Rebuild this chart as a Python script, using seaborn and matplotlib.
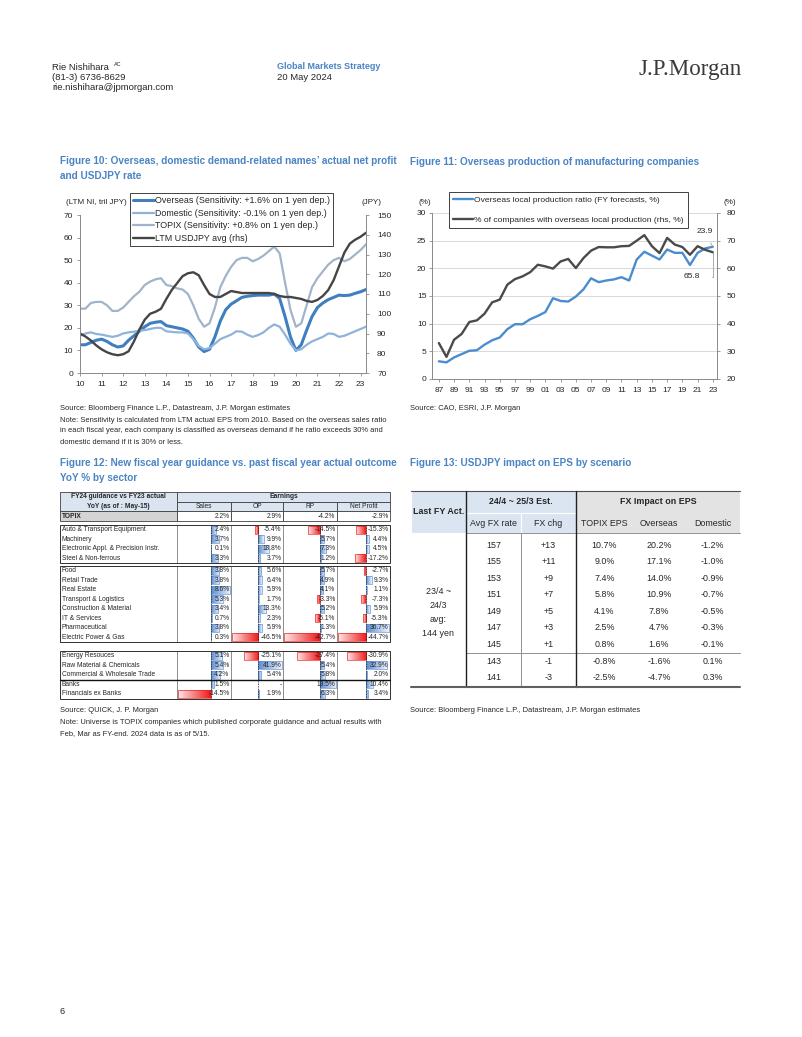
import numpy as np
import matplotlib
matplotlib.use('Agg')
import matplotlib.pyplot as plt
import seaborn as sns
from matplotlib.patches import Rectangle
from matplotlib.colors import to_rgb

sns.set_theme(style='white')
plt.rcParams['font.family'] = ['Liberation Sans', 'DejaVu Sans']

# ---- Figure 10 data (quarterly, FY10 - FY23) ----
quarters = np.arange(10, 23.3, 0.25)
overseas_ni = [12.5, 12.5, 13.5, 14.5, 15, 14, 12.5, 11.5, 12, 14.5,
               16.5, 18.5, 20.5, 22, 22.5, 22.8, 21, 20.5, 20, 19.5,
               18.5, 15.5, 11.5, 9.5, 10.5, 16, 23, 28, 30.5, 32,
               33.5, 34, 34.3, 34.5, 34.5, 34.5, 35, 33, 25, 16,
               10, 12.5, 19, 25, 29, 31, 32.5, 33.5, 34.5, 34.3,
               34.5, 35.3, 36, 37]
domestic_ni = [16.5, 17.5, 18, 17.3, 17, 16.5, 16, 16.5, 17.5, 18,
               18.3, 18.8, 19, 19.5, 20, 20, 18.5, 18.2, 18, 18,
               17.5, 15, 12, 10.5, 11, 13, 15, 16, 17, 18.5,
               18.3, 17, 16, 16.8, 18, 20, 21.5, 20.5, 17, 13,
               10, 10.5, 12.5, 14, 15, 16, 17.5, 17.3, 16, 16.5,
               17.5, 18.5, 19.5, 20.5]
topix_ni = [28.5, 28.5, 31, 31.5, 31.5, 30, 27.5, 27.5, 29, 31.5,
            34, 36, 39, 40.5, 41.5, 42, 39, 38.5, 37.5, 37,
            35, 30, 24, 20.5, 22, 29, 38, 43, 47, 50,
            51, 51, 49.5, 50.5, 52, 54, 56, 53, 40, 28,
            20.5, 22, 30, 38, 42, 45, 48, 50, 51, 49.5,
            50.5, 52.5, 54.5, 57]
usdjpy = [90, 88.5, 86.5, 84, 82, 80.5, 79.5, 79, 79.5, 81,
          86, 92, 97, 100, 101, 102.5, 107.5, 112, 115.5, 119,
          120.5, 121, 119.5, 114.5, 110, 108.5, 108.5, 110, 111.5, 111,
          110.5, 110.5, 110.5, 110.5, 110.5, 110.5, 110, 109, 108.5, 108.5,
          108, 107.5, 106.5, 106, 107, 109, 112, 117, 124, 131,
          135.5, 137.5, 139, 141]
fig10_labels = ['Overseas (Sensitivity: +1.6% on 1 yen dep.)',
                'Domestic (Sensitivity: -0.1% on 1 yen dep.)',
                'TOPIX (Sensitivity: +0.8% on 1 yen dep.)',
                'LTM USDJPY avg (rhs)']

# ---- Figure 11 data (annual, 1987 - 2023) ----
fy_years = ['87', '88', '89', '90', '91', '92', '93', '94', '95', '96', '97', '98', '99',
            '00', '01', '02', '03', '04', '05', '06', '07', '08', '09', '10', '11', '12',
            '13', '14', '15', '16', '17', '18', '19', '20', '21', '22', '23']
local_prod_ratio = [3.2, 3.0, 3.9, 4.5, 5.1, 5.2, 6.2, 7.0, 7.5, 9.0, 9.9, 9.9, 10.8,
                    11.4, 12.1, 14.6, 14.1, 14.0, 14.9, 16.2, 18.2, 17.5, 17.8, 18.0, 18.4, 17.8,
                    21.6, 23.0, 22.3, 21.6, 23.4, 22.8, 22.8, 20.6, 22.8, 23.6, 23.9]
companies_share = [33.0, 28.0, 34.2, 36.3, 40.6, 41.2, 43.6, 47.7, 48.7, 54.1, 56.1, 57.1, 58.6,
                   61.3, 60.7, 59.9, 62.5, 63.4, 60.1, 63.7, 66.4, 67.7, 67.6, 67.6, 68.0, 68.1,
                   70.0, 72.0, 68.0, 65.5, 71.0, 68.6, 67.7, 64.9, 68.0, 66.7, 65.8]
fig11_labels = ['Overseas local production ratio (FY forecasts, %)',
                '% of companies with overseas local production (rhs, %)']

# ---- Figure 12 data ----
t12_columns = ['Sales', 'OP', 'RP', 'Net Profit']
topix_row = [2.2, 2.9, -4.2, -2.9]
sectors = ['Auto & Transport Equipment', 'Machinery', 'Electronic Appl. & Precision Instr.',
           'Steel & Non-ferrous',
           'Food', 'Retail Trade', 'Real Estate', 'Transport & Logistics',
           'Construction & Material', 'IT & Services', 'Pharmaceutical', 'Electric Power & Gas',
           'Energy Resouces', 'Raw Material & Chemicals', 'Commercial & Wholesale Trade',
           'Banks', 'Financials ex Banks']
sales = [2.4, 3.7, 0.1, 3.3, 3.8, 3.8, 8.6, 5.3, 3.4, 0.7, 3.8, 0.3, 5.1, 5.4, 4.2, 1.5, -14.5]
op = [-5.4, 9.9, 18.8, 3.7, 5.6, 6.4, 5.9, 1.7, 13.3, 2.3, 5.9, -46.5, -25.1, 41.9, 5.4, None, 1.9]
rp = [-14.5, 5.7, 7.3, 1.2, 5.7, 4.9, 4.1, -3.3, 5.2, -5.1, 1.3, -42.7, -27.4, 5.4, 5.8, 19.5, 6.3]
net_profit = [-15.3, 4.4, 4.5, -17.2, -2.7, 9.3, 1.1, -7.3, 5.9, -5.3, 36.7, -44.7,
              -30.9, 32.9, 2.0, 10.4, 3.4]
group_sizes = [4, 8, 5]

# ---- Figure 13 data ----
avg_fx_rate = [157, 155, 153, 151, 149, 147, 145, 143, 141]
fx_chg = ['+13', '+11', '+9', '+7', '+5', '+3', '+1', '-1', '-3']
topix_eps = [10.7, 9.0, 7.4, 5.8, 4.1, 2.5, 0.8, -0.8, -2.5]
overseas_eps = [20.2, 17.1, 14.0, 10.9, 7.8, 4.7, 1.6, -1.6, -4.7]
domestic_eps = [-1.2, -1.0, -0.9, -0.7, -0.5, -0.3, -0.1, 0.1, 0.3]

W, H = 802, 1037
TITLE = '#4a84c4'
TXT = '#262626'
fig = plt.figure(figsize=(W / 100, H / 100), dpi=100)


def box(x0, y0, x1, y1):
    return [x0 / W, 1 - y1 / H, (x1 - x0) / W, (y1 - y0) / H]


page = fig.add_axes([0, 0, 1, 1])
page.axis('off')


def txt(x, y, s, size=5.4, color=TXT, weight='normal', ha='left', va='center', **kw):
    page.text(x, y, s, fontsize=size, color=color, fontweight=weight, ha=ha, va=va, **kw)


# header
txt(52, 68, 'Rie Nishihara', size=6.8)
txt(114, 64, 'AC', size=4.0)
txt(52, 77.5, '(81-3) 6736-8629', size=6.8)
txt(52, 87, 'rie.nishihara@jpmorgan.com', size=6.8)
txt(277, 66.5, 'Global Markets Strategy', size=6.5, color=TITLE, weight='bold')
txt(277, 77, '20 May 2024', size=6.8)
txt(742, 69, 'J.P.Morgan', size=16.6, color='#3a3a3a', ha='right', family='Liberation Serif')

# titles / sources
TS = 7.2
SS = 5.45
txt(60, 161, 'Figure 10: Overseas, domestic demand-related names\u2019 actual net profit', size=TS,
    color=TITLE, weight='bold')
txt(60, 176, 'and USDJPY rate', size=TS, color=TITLE, weight='bold')
txt(410, 162, 'Figure 11: Overseas production of manufacturing companies', size=TS,
    color=TITLE, weight='bold')
txt(60, 408.5, 'Source: Bloomberg Finance L.P., Datastream, J.P. Morgan estimates', size=SS)
txt(60, 420, 'Note: Sensitivity is calculated from LTM actual EPS from 2010. Based on the overseas sales ratio', size=SS)
txt(60, 431, 'in each fiscal year, each company is classified as overseas demand if he ratio exceeds 30% and', size=SS)
txt(60, 442, 'domestic demand if it is 30% or less.', size=SS)
txt(410, 409, 'Source: CAO, ESRI, J.P. Morgan', size=SS)
txt(60, 463, 'Figure 12: New fiscal year guidance vs. past fiscal year actual outcome', size=TS,
    color=TITLE, weight='bold')
txt(60, 478, 'YoY % by sector', size=TS, color=TITLE, weight='bold')
txt(410, 463, 'Figure 13: USDJPY impact on EPS by scenario', size=TS, color=TITLE, weight='bold')
txt(60, 711, 'Source: QUICK, J. P. Morgan', size=SS)
txt(60, 723, 'Note: Universe is TOPIX companies which published corporate guidance and actual results with', size=SS)
txt(60, 734, 'Feb, Mar as FY-end. 2024 data is as of 5/15.', size=SS)
txt(410, 711, 'Source: Bloomberg Finance L.P., Datastream, J.P. Morgan estimates', size=SS)
txt(60, 1012, '6', size=6.6)

# ---------------- Figure 10 ----------------
ax = fig.add_axes(box(80, 215, 366, 373))
c_over, c_dom, c_top, c_fx = '#3f7fc0', '#8fb3da', '#a2b4c9', '#454545'
sns.lineplot(x=quarters, y=overseas_ni, ax=ax, color=c_over, lw=2.2, label=fig10_labels[0], legend=False)
sns.lineplot(x=quarters, y=domestic_ni, ax=ax, color=c_dom, lw=1.6, label=fig10_labels[1], legend=False)
sns.lineplot(x=quarters, y=topix_ni, ax=ax, color=c_top, lw=1.6, label=fig10_labels[2], legend=False)
ax.set_ylim(0, 70)
ax.set_xlim(10, 23.25)
ax.set_xticks(range(10, 24))
ax.set_yticks(range(0, 71, 10))
ax2 = ax.twinx()
sns.lineplot(x=quarters, y=usdjpy, ax=ax2, color=c_fx, lw=1.7, label=fig10_labels[3], legend=False)
ax2.set_ylim(70, 150)
ax2.set_yticks(range(70, 151, 10))
for a in (ax, ax2):
    a.set_xlabel('')
    a.set_ylabel('')
    a.spines['top'].set_visible(False)
    for s in ('left', 'right', 'bottom'):
        a.spines[s].set_color('#8c8c8c')
        a.spines[s].set_linewidth(0.7)
    a.tick_params(labelsize=6.0, colors=TXT, length=2, width=0.6, color='#8c8c8c')
ax.tick_params(axis='x', bottom=True, pad=4)
ax.tick_params(axis='y', left=True, pad=3)
ax2.tick_params(axis='y', right=True, pad=6)
txt(66, 202, '(LTM NI, tril JPY)', size=5.8)
txt(362, 202, '(JPY)', size=5.8)
h10 = ax.get_lines() + ax2.get_lines()
leg = fig.legend(h10, fig10_labels, loc='upper left', bbox_to_anchor=(130 / W, 1 - 193 / H),
                 bbox_transform=fig.transFigure, fontsize=6.4, handlelength=2.3, handletextpad=0.15,
                 labelspacing=0.4, borderpad=0.35, borderaxespad=0, fancybox=False,
                 edgecolor='#404040', framealpha=1)
leg.get_frame().set_linewidth(0.7)

# ---------------- Figure 11 ----------------
bx = fig.add_axes(box(432, 213, 717, 379))
c_ratio, c_share = '#4a8dcf', '#4a4a4a'
xi = np.arange(len(fy_years))
sns.lineplot(x=xi, y=local_prod_ratio, ax=bx, color=c_ratio, lw=1.7, legend=False)
bx.set_ylim(0, 30)
bx.set_yticks(range(0, 31, 5))
bx.yaxis.grid(True, color='#d9d9d9', lw=0.7)
bx.set_xlim(-0.9, 36.55)
bx.set_xticks(xi[::2])
bx.set_xticklabels(fy_years[::2])
bx2 = bx.twinx()
sns.lineplot(x=xi, y=companies_share, ax=bx2, color=c_share, lw=1.7, legend=False)
bx2.set_ylim(20, 80)
bx2.set_yticks(range(20, 81, 10))
for a in (bx, bx2):
    a.set_xlabel('')
    a.set_ylabel('')
    a.spines['top'].set_visible(False)
    for s in ('left', 'right', 'bottom'):
        a.spines[s].set_color('#8c8c8c')
        a.spines[s].set_linewidth(0.7)
    a.tick_params(labelsize=6.0, colors=TXT, length=2, width=0.6, color='#8c8c8c')
bx.tick_params(axis='x', bottom=True, pad=4)
bx.tick_params(axis='y', left=True, pad=2)
bx2.tick_params(axis='y', right=True, pad=5)
txt(425, 202, '(%)', size=5.8, ha='center')
txt(730, 202, '(%)', size=5.8, ha='center')
bx.annotate(f'{local_prod_ratio[-1]:.1f}', xy=(xi[-1], local_prod_ratio[-1]), xytext=(34.9, 26.7),
            fontsize=6.0, color=TXT, ha='center', va='center',
            arrowprops=dict(arrowstyle='-', color='#a0a0a0', lw=0.6, shrinkA=4, shrinkB=0))
bx2.annotate(f'{companies_share[-1]:.1f}', xy=(xi[-1], companies_share[-1]), xytext=(33.3, 57.0),
             fontsize=6.0, color=TXT, ha='center', va='center',
             arrowprops=dict(arrowstyle='-', color='#a0a0a0', lw=0.6, shrinkA=6, shrinkB=0,
                             connectionstyle='angle,angleA=0,angleB=90,rad=0'))
h11 = bx.get_lines()[:1] + bx2.get_lines()[:1]
leg2 = fig.legend(h11, fig11_labels, loc='upper left', bbox_to_anchor=(449 / W, 1 - 192 / H),
                  bbox_transform=fig.transFigure, fontsize=6.1, handlelength=2.3, handletextpad=0.15,
                  labelspacing=1.35, borderpad=0.5, borderaxespad=0, fancybox=False,
                  edgecolor='#404040', framealpha=1)
leg2.get_frame().set_linewidth(0.7)

# ---------------- Figure 12 table ----------------
LB = '#dbe5f1'
FS12 = 4.75
cols = [60, 177, 231, 283, 337, 390]
rh = 9.5
page.add_patch(Rectangle((cols[0], 492), cols[1] - cols[0], 19, fc=LB, ec='#404040', lw=0.6))
page.add_patch(Rectangle((cols[1], 492), cols[5] - cols[1], 9.5, fc=LB, ec='#404040', lw=0.6))
for j in range(4):
    page.add_patch(Rectangle((cols[j + 1], 501.5), cols[j + 2] - cols[j + 1], 9.5, fc=LB,
                             ec='#404040', lw=0.6))
    txt((cols[j + 1] + cols[j + 2]) / 2, 506.5, t12_columns[j], size=FS12, ha='center')
txt(118, 496.8, 'FY24 guidance vs FY23 actual', size=FS12, weight='bold', ha='center')
txt(118, 506.3, 'YoY (as of : May-15)', size=FS12, weight='bold', ha='center')
txt(283.5, 496.8, 'Earnings', size=FS12, weight='bold', ha='center')
# TOPIX row
page.add_patch(Rectangle((cols[0], 511), cols[1] - cols[0], rh, fc='#d4d4d4', ec='#404040', lw=0.6))
for j in range(4):
    page.add_patch(Rectangle((cols[j + 1], 511), cols[j + 2] - cols[j + 1], rh, fc='white',
                             ec='#404040', lw=0.6))
    txt(cols[j + 2] - 1.5, 516, f'{topix_row[j]:.1f}%', size=FS12, ha='right')
txt(62, 516, 'TOPIX', size=FS12, weight='bold')

col_values = [sales, op, rp, net_profit]
blue, red, white = np.array(to_rgb('#5a8bd0')), np.array(to_rgb('#f01818')), np.ones(3)


def databar(v, L, R, yc, mn, mx):
    w = R - L - 2
    zero = L + 1 + w * (-mn) / (mx - mn)
    end = zero + w * v / (mx - mn)
    c = blue if v > 0 else red
    t = np.linspace(0, 0.9, 64)
    grad = c[None, :] * (1 - t[:, None]) + white[None, :] * t[:, None]
    if v < 0:
        grad = grad[::-1]
    xl, xr = min(zero, end), max(zero, end)
    page.imshow(grad[None, :, :], extent=(xl, xr, yc + 3.8, yc - 3.8), aspect='auto',
                interpolation='bilinear', zorder=2)
    page.add_patch(Rectangle((xl, yc - 3.8), xr - xl, 7.6, fill=False, ec=c, lw=0.45, zorder=2.5))


group_tops = [525, 566, 651]
start = 0
for g, n in enumerate(group_sizes):
    top = group_tops[g]
    bottom = top + n * rh
    for j in range(4):
        vals = [v for v in col_values[j] if v is not None]
        mn, mx = min(vals), max(vals)
        L, R = cols[j + 1], cols[j + 2]
        zero = L + 1 + (R - L - 2) * (-mn) / (mx - mn)
        page.plot([zero, zero], [top + 1, bottom - 1], color='#202020', lw=0.6, ls=(0, (1, 1)), zorder=3)
        for k in range(n):
            v = col_values[j][start + k]
            yc = top + (k + 0.5) * rh
            if v is None:
                txt(R - 1.5, yc, '-', size=FS12, ha='right', zorder=4)
                continue
            if v != 0:
                databar(v, L, R, yc, mn, mx)
            txt(R - 1.5, yc, f'{v:.1f}%', size=FS12, ha='right', zorder=4)
    for k in range(n):
        txt(62, top + (k + 0.5) * rh, sectors[start + k], size=FS12)
    for x in cols[1:-1]:
        page.plot([x, x], [top, bottom], color='#7a7a7a', lw=0.6, zorder=3)
    page.add_patch(Rectangle((cols[0], top), cols[-1] - cols[0], bottom - top, fill=False,
                             ec='#303030', lw=0.7, zorder=3))
    start += n
# separator before Banks
sep_y = group_tops[2] + 3 * rh
page.plot([cols[0], cols[-1]], [sep_y, sep_y], color='#111111', lw=1.0, zorder=3)

# ---------------- Figure 13 table ----------------
GR = '#e3e3e3'
FS13 = 6.4
c13 = [411, 466, 521, 576, 633, 685, 740]
page.add_patch(Rectangle((411, 491), 55, 42, fc=LB, ec='white', lw=0.8))
page.add_patch(Rectangle((466, 491), 110, 22, fc=LB, ec='white', lw=0.8))
page.add_patch(Rectangle((466, 513), 55, 20, fc=LB, ec='white', lw=0.8))
page.add_patch(Rectangle((521, 513), 55, 20, fc=LB, ec='white', lw=0.8))
page.add_patch(Rectangle((576, 491), 164, 42, fc=GR, ec='white', lw=0.8))
page.plot([411, 740], [491, 491], color='#505050', lw=0.8)
page.plot([466, 740], [533, 533], color='#909090', lw=0.7)
txt(438.5, 512, 'Last FY Act.', size=FS13, weight='bold', ha='center')
txt(521, 502, '24/4 ~ 25/3 Est.', size=FS13, weight='bold', ha='center')
txt(658, 502, 'FX Impact on EPS', size=FS13, weight='bold', ha='center')
for j, lab in enumerate(['Avg FX rate', 'FX chg', 'TOPIX EPS', 'Overseas', 'Domestic']):
    txt((c13[j + 1] + c13[j + 2]) / 2, 523.5, lab, size=FS13, ha='center')
row_y0, row_step = 545, 16.6
for i in range(len(avg_fx_rate)):
    y = row_y0 + i * row_step
    txt(493.5, y, str(avg_fx_rate[i]), size=FS13, ha='center')
    txt(548.5, y, fx_chg[i], size=FS13, ha='center')
    txt(604.5, y, f'{topix_eps[i]:.1f}%', size=FS13, ha='center')
    txt(659, y, f'{overseas_eps[i]:.1f}%', size=FS13, ha='center')
    txt(712.5, y, f'{domestic_eps[i]:.1f}%', size=FS13, ha='center')
sep13 = row_y0 + 6.5 * row_step
page.plot([466, 740], [sep13, sep13], color='#909090', lw=0.7)
for k, s in enumerate(['23/4 ~', '24/3', 'avg:', '144 yen']):
    txt(438.5, 591 + k * 14, s, size=FS13, ha='center')
page.plot([466, 466], [491, 687], color='#202020', lw=1.0)
page.plot([576, 576], [491, 687], color='#202020', lw=1.0)
page.plot([521, 521], [533, 687], color='#909090', lw=0.7)
page.plot([411, 740], [687, 687], color='#606060', lw=1.5)

page.set_xlim(0, W)
page.set_ylim(H, 0)

fig.savefig('out.png', dpi=100)
